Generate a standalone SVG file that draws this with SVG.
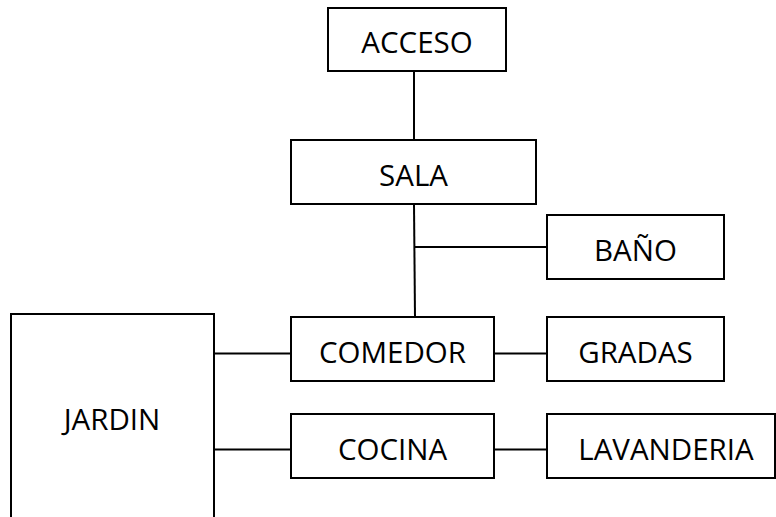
<svg xmlns="http://www.w3.org/2000/svg" width="776" height="517" viewBox="0 0 776 517">
<style>
.box{fill:#fff;stroke:#000;stroke-width:2}
.lbl{font-family:"Open Sans","Liberation Sans",sans-serif;font-size:29.5px;fill:#000;text-anchor:middle}
.con line{stroke:#000;stroke-width:2}
</style>
<rect width="776" height="517" fill="#fff"/>
<g class="con" id="connectors">
<line x1="414" y1="71" x2="414" y2="140"/>
<line x1="414" y1="204" x2="415" y2="317"/>
<line x1="415" y1="247" x2="547" y2="247"/>
<line x1="494" y1="353.5" x2="547" y2="353.5"/>
<line x1="494" y1="449.5" x2="547" y2="449.5"/>
<line x1="214" y1="353.5" x2="291" y2="353.5"/>
<line x1="214" y1="449.5" x2="291" y2="449.5"/>
</g>
<g id="acceso"><rect class="box" x="328" y="8" width="178" height="63"/><text class="lbl" x="417" y="53">ACCESO</text></g>
<g id="sala"><rect class="box" x="291" y="140" width="245" height="64"/><text class="lbl" x="413.5" y="186">SALA</text></g>
<g id="bano"><rect class="box" x="547" y="215" width="177" height="64"/><text class="lbl" x="635.5" y="261">BAÑO</text></g>
<g id="comedor"><rect class="box" x="291" y="317" width="203" height="64"/><text class="lbl" x="392.5" y="363">COMEDOR</text></g>
<g id="gradas"><rect class="box" x="547" y="317" width="177" height="64"/><text class="lbl" x="635.5" y="363">GRADAS</text></g>
<g id="cocina"><rect class="box" x="291" y="414" width="203" height="64"/><text class="lbl" x="392.5" y="460">COCINA</text></g>
<g id="lavanderia"><rect class="box" x="547" y="414" width="228" height="64"/><text class="lbl" x="666" y="460">LAVANDERIA</text></g>
<g id="jardin"><rect class="box" x="11" y="314" width="203" height="215"/><text class="lbl" x="112" y="430">JARDIN</text></g>
</svg>
